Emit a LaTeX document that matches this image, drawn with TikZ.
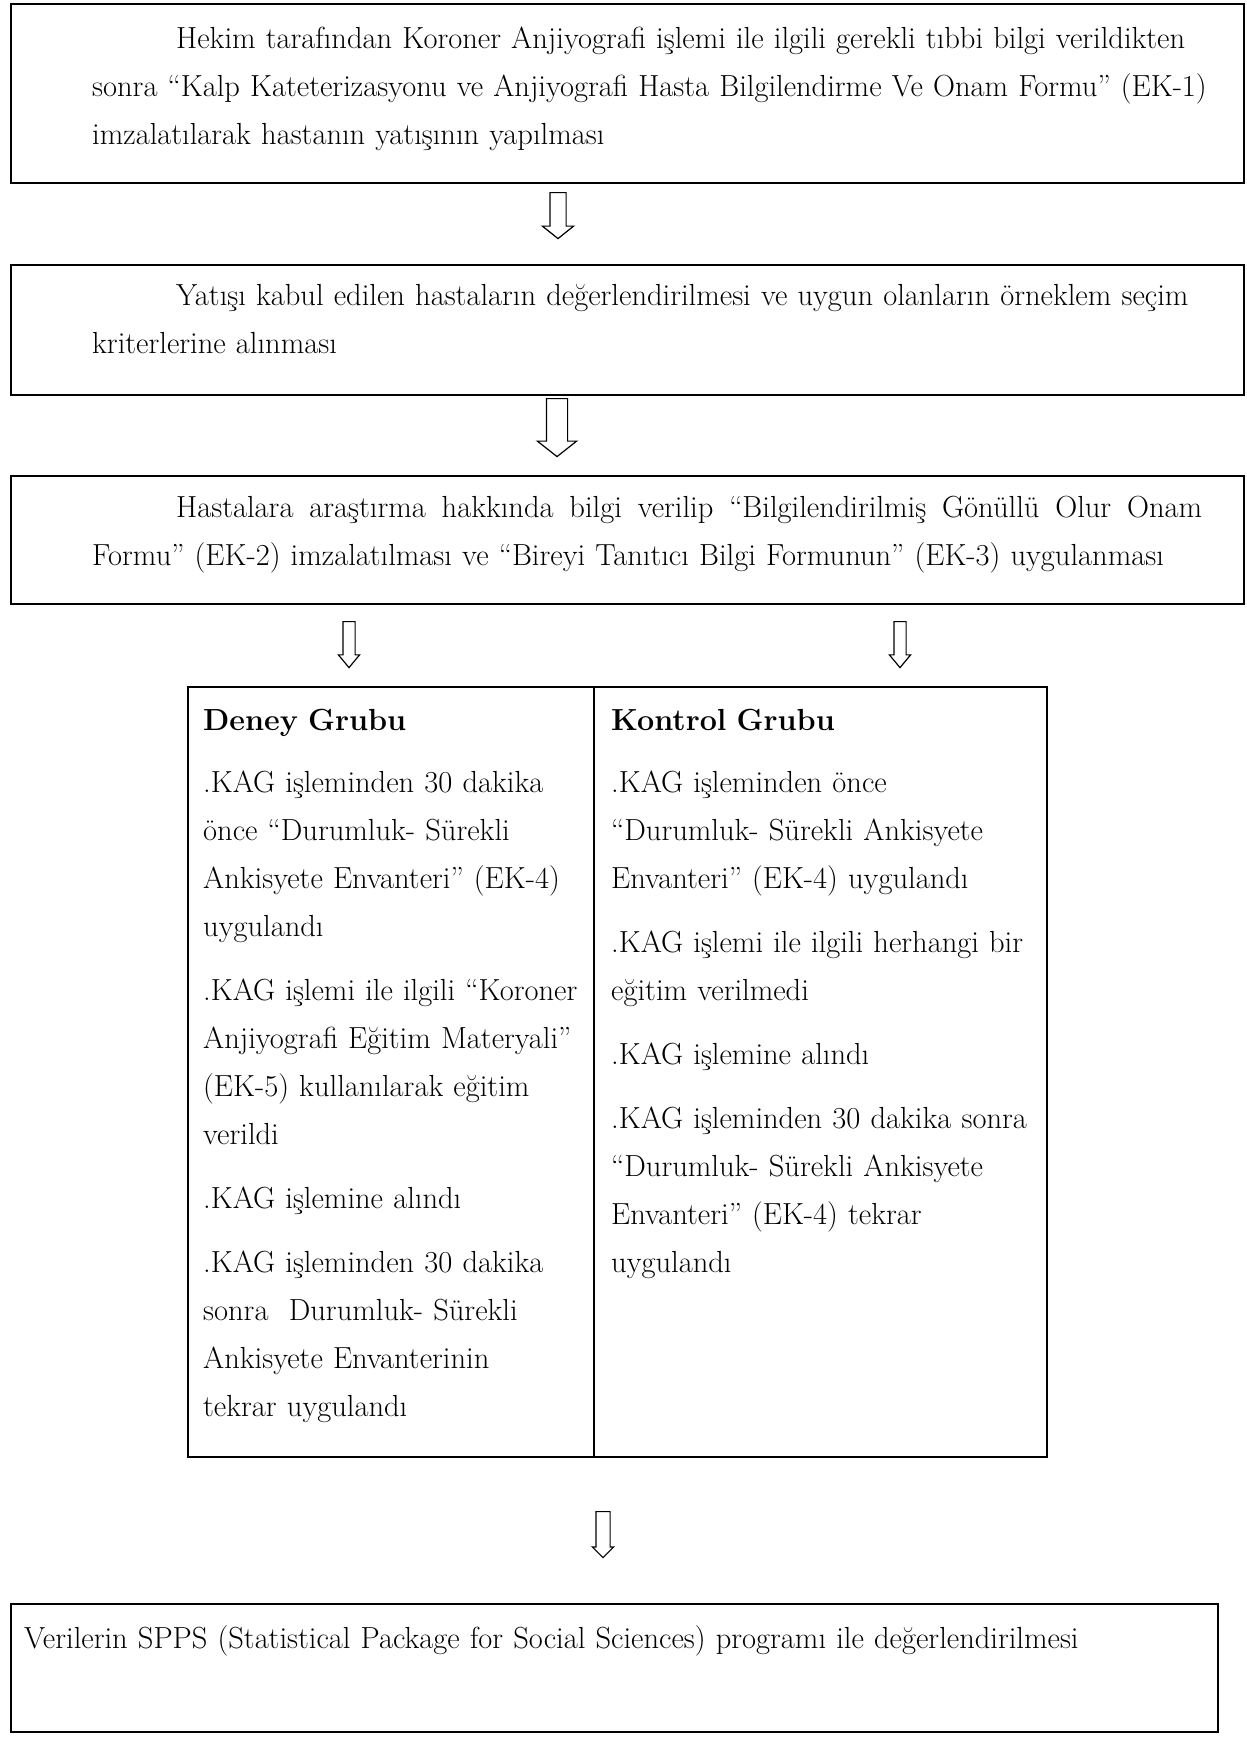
\documentclass[tikz,border=0pt]{standalone}
\usepackage{fontspec}
\usetikzlibrary{shapes.arrows}

\tikzset{
  kutu/.style={draw, line width=2.4pt, rectangle, inner sep=0pt, anchor=north west},
  metin/.style={inner sep=0pt, anchor=north west, align=left, font=\fontsize{30.5}{48}\selectfont},
  okblok/.style={draw, line width=1.2pt, single arrow, shape border rotate=270,
    anchor=tail, single arrow head indent=0pt}
}

\begin{document}
\begin{tikzpicture}[x=1pt,y=-1pt]
\useasboundingbox (0,0) rectangle (1247,1745);
% ust kutular
\node[kutu, minimum width=1233pt, minimum height=179pt] (hekim) at (10,3) {};
\node[metin, text width=1150pt] (hekimyazi) at (92,14.4) {\strut\hspace*{84pt}Hekim tarafından Koroner Anjiyografi işlemi ile ilgili gerekli tıbbi bilgi verildikten\\
sonra “Kalp Kateterizasyonu ve Anjiyografi Hasta Bilgilendirme Ve Onam Formu” (EK-1)\\
imzalatılarak hastanın yatışının yapılması};
\node[kutu, minimum width=1233pt, minimum height=130pt] (yatis) at (10,264) {};
\node[metin, text width=1150pt] (yatisyazi) at (92,271.4) {\strut\hspace*{84pt}Yatışı kabul edilen hastaların değerlendirilmesi ve uygun olanların örneklem seçim\\
kriterlerine alınması};
\node[kutu, minimum width=1233pt, minimum height=128pt] (bilgi) at (10,475) {};
\node[metin, text width=1150pt] (bilgiyazi) at (92,483.4) {\strut\hspace*{84pt}\hbox to 1026pt{Hastalara\hfill araştırma\hfill hakkında\hfill bilgi\hfill verilip\hfill “Bilgilendirilmiş\hfill Gönüllü\hfill Olur\hfill Onam}\\
Formu” (EK-2) imzalatılması ve “Bireyi Tanıtıcı Bilgi Formunun” (EK-3) uygulanması};
% oklar
\node[okblok, minimum height=46pt, inner sep=7.5pt, single arrow head extend=7.5pt, single arrow tip angle=102.7] (ok1) at (558,192) {};
\node[okblok, minimum height=58pt, inner sep=10pt, single arrow head extend=9pt, single arrow tip angle=103.4] (ok2) at (557,398) {};
\node[okblok, minimum height=46pt, inner sep=5.5pt, single arrow head extend=4.5pt, single arrow tip angle=79.6] (ok3) at (349,621) {};
\node[okblok, minimum height=46pt, inner sep=5.5pt, single arrow head extend=4.5pt, single arrow tip angle=79.6] (ok4) at (900,621) {};
% tablo
\node[kutu, line width=2pt, minimum width=859pt, minimum height=770pt] (tablo) at (187,686) {};
\draw[line width=1.3pt] (594,686) -- (594,1456);
\node[metin, text width=385pt] (deney) at (203,696.4) {\strut\textbf{Deney Grubu}\\[14pt]
.KAG işleminden 30 dakika\\
önce “Durumluk- Sürekli\\
Ankisyete Envanteri” (EK-4)\\
uygulandı\\[16pt]
.KAG işlemi ile ilgili “Koroner\\
Anjiyografi Eğitim Materyali”\\
(EK-5) kullanılarak eğitim\\
verildi\\[16pt]
.KAG işlemine alındı\\[16pt]
.KAG işleminden 30 dakika\\
sonra\ \ Durumluk- Sürekli\\
Ankisyete Envanterinin\\
tekrar uygulandı};
\node[metin, text width=430pt] (kontrol) at (611,696.4) {\strut\textbf{Kontrol Grubu}\\[14pt]
.KAG işleminden önce\\
“Durumluk- Sürekli Ankisyete\\
Envanteri” (EK-4) uygulandı\\[16pt]
.KAG işlemi ile ilgili herhangi bir\\
eğitim verilmedi\\[16pt]
.KAG işlemine alındı\\[16pt]
.KAG işleminden 30 dakika sonra\\
“Durumluk- Sürekli Ankisyete\\
Envanteri” (EK-4) tekrar\\
uygulandı};
\node[okblok, minimum height=46pt, inner sep=6.5pt, single arrow head extend=3.5pt, single arrow tip angle=90] (ok5) at (603,1511) {};
% alt kutu
\node[kutu, line width=2.2pt, minimum width=1207pt, minimum height=128pt] (spss) at (10,1603) {};
\node[metin, text width=1150pt] (spssyazi) at (24,1614.4) {\strut Verilerin SPPS (Statistical Package for Social Sciences) programı ile değerlendirilmesi};
\end{tikzpicture}
\end{document}
